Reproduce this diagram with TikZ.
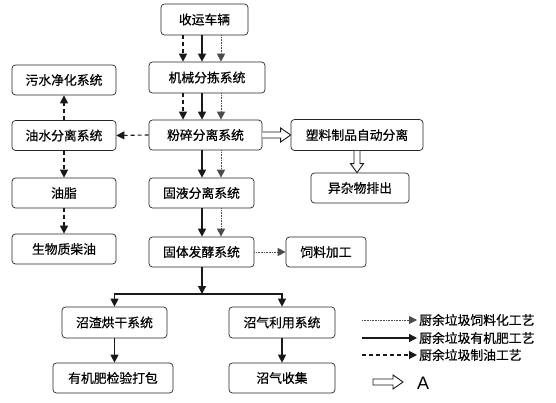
\documentclass[tikz,border=0pt]{standalone}
\usepackage{fontspec}
\setmainfont{Noto Sans CJK SC}[FakeBold=0.5]
\newfontfamily\latinfont{Liberation Sans}
\usetikzlibrary{arrows.meta,calc}
\tikzset{
  box/.style={draw=black!85, line width=0.7pt, rounded corners=3.5pt, fill=white,
    minimum height=30pt, inner sep=0pt, font=\fontsize{12.8}{15}\selectfont, text=black},
  tip/.style={-{Triangle[length=8pt,width=8pt]}},
  solidarrow/.style={tip, line width=1.2pt, black!90},
  dashedarrow/.style={tip, line width=1.1pt, black!90, dash pattern=on 4pt off 3pt},
  dottedarrow/.style={tip, line width=0.9pt, black!70, dash pattern=on 0.8pt off 0.8pt},
  hollow/.style={line width=0.9pt, black!90, fill=white},
  legtext/.style={anchor=west, inner sep=2pt, font=\fontsize{12.8}{15}\selectfont, text=black}
}
\begin{document}
\begin{tikzpicture}[x=1pt,y=-1pt]
\fill[white] (0,0) rectangle (556,403);
\useasboundingbox (0,0) rectangle (556,403);

% nodes
\node[box, minimum width=87pt, minimum height=31pt] (sy) at (204.5,19.5) {收运车辆};
\node[box, minimum width=116pt, minimum height=31pt] (jx) at (207,77.5) {机械分拣系统};
\node[box, minimum width=104pt] (wsj) at (64,80) {污水净化系统};
\node[box, minimum width=104pt] (ysf) at (64,135.5) {油水分离系统};
\node[box, minimum width=113pt] (fs) at (205.5,135) {粉碎分离系统};
\node[box, minimum width=132pt, minimum height=31pt] (sl) at (357,135) {塑料制品自动分离};
\node[box, minimum width=98pt] (yz) at (360,188) {异杂物排出};
\node[box, minimum width=104pt] (yzh) at (64,193) {油脂};
\node[box, minimum width=104pt] (sw) at (64,249) {生物质柴油};
\node[box, minimum width=105pt] (gy) at (201.5,193) {固液分离系统};
\node[box, minimum width=105pt] (gt) at (201.5,252) {固体发酵系统};
\node[box, minimum width=80pt] (sljg) at (326,252) {饲料加工};
\node[box, minimum width=105pt, minimum height=31pt] (zz) at (114.5,322.5) {沼渣烘干系统};
\node[box, minimum width=106pt, minimum height=31pt] (zq) at (282,322.5) {沼气利用系统};
\node[box, minimum width=120pt] (yjf) at (113,378) {有机肥检验打包};
\node[box, minimum width=106pt] (zqs) at (282,378) {沼气收集};

% column x coordinates
\coordinate (xd) at (183,0);
\coordinate (xs) at (202,0);
\coordinate (xt) at (221,0);

% 收运车辆 -> 机械分拣系统
\draw[dashedarrow] (sy.south -| xd) -- (jx.north -| xd);
\draw[solidarrow] (sy.south -| xs) -- (jx.north -| xs);
\draw[dottedarrow] (sy.south -| xt) -- (jx.north -| xt);
% 机械分拣系统 -> 粉碎分离系统
\draw[dashedarrow] (jx.south -| xd) -- (fs.north -| xd);
\draw[solidarrow] (jx.south -| xs) -- (fs.north -| xs);
\draw[dottedarrow] (jx.south -| xt) -- (fs.north -| xt);
% 粉碎分离系统 -> 固液分离系统
\draw[solidarrow] (fs.south -| xs) -- (gy.north -| xs);
\draw[dottedarrow] (fs.south -| xt) -- (gy.north -| xt);
% 固液分离系统 -> 固体发酵系统
\draw[solidarrow] (gy.south -| xs) -- (gt.north -| xs);
\draw[dottedarrow] (gy.south -| xt) -- (gt.north -| xt);
% 固体发酵系统 -> 饲料加工
\draw[dottedarrow] (gt.east) -- (sljg.west);

% oil branch
\draw[dashedarrow] (fs.west) -- (ysf.east);
\draw[dashedarrow] (ysf.north) -- (wsj.south);
\draw[dashedarrow] (ysf.south) -- (yzh.north);
\draw[dashedarrow] (yzh.south) -- (sw.north);

% fermentation branch
\coordinate (br) at (202,294);
\draw[solidarrow] (gt.south -| br) -- (br);
\draw[line width=1.2pt, black!90] (zz.north |- br) -- (zq.north |- br);
\draw[solidarrow] (br) -| (zz.north);
\draw[solidarrow] (br) -| (zq.north);
\draw[solidarrow] (zz.south) -- (yjf.north -| zz.south);
\draw[solidarrow] (zq.south) -- (zqs.north);

% hollow arrows
\draw[hollow] ($(fs.east)+(0,-3)$) -- ($(sl.west)+(-10,-3)$) -- ($(sl.west)+(-10,-7)$)
  -- (sl.west) -- ($(sl.west)+(-10,7)$) -- ($(sl.west)+(-10,3)$) -- ($(fs.east)+(0,3)$);
\draw[hollow] ($(sl.south)+(-3,0)$) -- ($(sl.south |- yz.north)+(-3,-9)$) -- ($(sl.south |- yz.north)+(-6.5,-9)$)
  -- (sl.south |- yz.north) -- ($(sl.south |- yz.north)+(6.5,-9)$) -- ($(sl.south |- yz.north)+(3,-9)$) -- ($(sl.south)+(3,0)$);

% legend
\node[legtext] (l1) at (417,320) {厨余垃圾饲料化工艺};
\node[legtext] (l2) at (417,338) {厨余垃圾有机肥工艺};
\node[legtext] (l3) at (417,355) {厨余垃圾制油工艺};
\coordinate (l1s) at (362,320);
\coordinate (l2s) at (362,338);
\coordinate (l3s) at (362,355);
\draw[dottedarrow] (l1s) -- (l1.west);
\draw[solidarrow] (l2s) -- (l2.west);
\draw[dashedarrow] (l3s) -- (l3.west);
\node[anchor=west, inner sep=1pt, font=\latinfont\fontsize{18}{20}\selectfont, text=black] (la) at (416,383) {A};
\coordinate (a1) at (373,382);
\coordinate (a2) at (403,382);
\draw[hollow] ($(a1)+(0,-3)$) -- ($(a2)+(-10,-3)$) -- ($(a2)+(-10,-7)$) -- (a2)
  -- ($(a2)+(-10,7)$) -- ($(a2)+(-10,3)$) -- ($(a1)+(0,3)$) -- cycle;
\end{tikzpicture}
\end{document}
